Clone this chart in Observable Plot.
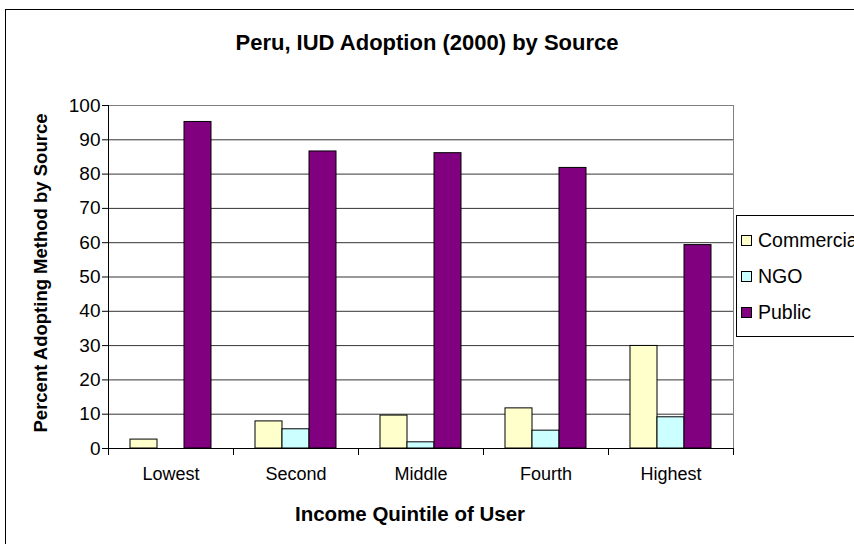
<!DOCTYPE html>
<html>
<head>
<meta charset="utf-8">
<script src="https://cdn.jsdelivr.net/npm/d3@7"></script>
<script src="https://cdn.jsdelivr.net/npm/@observablehq/plot@0.6"></script>
<style>
  html, body { margin: 0; padding: 0; background: #fff; overflow: hidden; }
  #chart { position: relative; width: 854px; height: 544px; overflow: hidden;
           font-family: "Liberation Sans", Arial, sans-serif; color: #000; background: #fff; }
  #border { position: absolute; left: 5px; top: 9px; width: 900px; height: 600px;
            border: 1px solid #000; box-sizing: border-box; }
  #plot { position: absolute; left: 0; top: 0; }
  #title { position: absolute; left: 0; width: 854px; top: 30px; text-align: center;
           font-weight: bold; font-size: 22px; line-height: 26px; white-space: nowrap; }
  #xtitle { position: absolute; left: 110px; width: 600px; top: 502px; text-align: center;
            font-weight: bold; font-size: 20.5px; line-height: 24px; white-space: nowrap; }
  #ytitle { position: absolute; left: -159px; top: 262px; width: 400px; text-align: center;
            font-weight: bold; font-size: 18.5px; line-height: 22px; white-space: nowrap;
            transform: rotate(-90deg); transform-origin: 200px 11px; }
  #legend { position: absolute; left: 736px; top: 215px; width: 200px; height: 122px;
            border: 1px solid #000; box-sizing: border-box; background: #fff; }
  .item { position: absolute; left: 4px; height: 22px; display: flex; align-items: center;
          font-size: 19.5px; white-space: nowrap; }
  .sw { width: 9px; height: 9px; border: 1px solid #000; margin-right: 6px; flex: none; }
</style>
</head>
<body>
<div id="chart">
  <div id="border"></div>
  <div id="plot"></div>
  <div id="title"></div>
  <div id="xtitle"></div>
  <div id="ytitle"></div>
  <div id="legend"></div>
</div>
<script>
// Categories and series (percent of IUD adopters by source, Peru 2000)
const quintiles = ["Lowest", "Second", "Middle", "Fourth", "Highest"];
const sources = ["Commercial", "NGO", "Public"];
const commercial = [2.6, 7.9, 9.6, 11.7, 29.9];
const ngo = [0, 5.6, 1.8, 5.2, 9.1];
const publicSector = [95.2, 86.6, 86.1, 81.8, 59.3];
const sourceColors = ["#FFFFCC", "#CCFFFF", "#800080"];
const yTicks = [0, 10, 20, 30, 40, 50, 60, 70, 80, 90, 100];

const titleText = "Peru, IUD Adoption (2000) by Source";
const xTitle = "Income Quintile of User";
const yTitle = "Percent Adopting Method by Source";

const series = [commercial, ngo, publicSector];
const rows = quintiles.flatMap((q, i) =>
  sources.map((s, j) => ({quintile: q, source: s, value: series[j][i]}))
);

const width = 854, height = 544;
const marginTop = 105, marginBottom = 96, marginLeft = 108, marginRight = 121;
const innerHeight = height - marginTop - marginBottom;

const chart = Plot.plot({
  width, height, marginTop, marginBottom, marginLeft, marginRight,
  style: {fontFamily: "'Liberation Sans', Arial, sans-serif", fontSize: "18px",
          background: "transparent", color: "#000", overflow: "visible"},
  fx: {domain: quintiles, padding: 0, label: null},
  x: {domain: sources, paddingInner: 0, paddingOuter: 0.74, axis: null},
  y: {domain: [0, 100], label: null, axis: null},
  color: {domain: sources, range: sourceColors},
  marks: [
    // horizontal gridlines and plot-area top and right edges
    Plot.ruleY(yTicks.filter(t => t > 0 && t < 100), {stroke: "#000", strokeOpacity: 0.8}),
    Plot.ruleY([100], {stroke: "#808080"}),
    Plot.frame({anchor: "right", stroke: "#808080", facetAnchor: "right"}),
    // grouped bars
    Plot.barY(rows, {fx: "quintile", x: "source", y: "value", fill: "source",
                     stroke: "#000", strokeWidth: 1}),
    // axis lines
    Plot.ruleY([0], {stroke: "#000"}),
    Plot.frame({anchor: "left", stroke: "#000", facetAnchor: "left"}),
    // category boundary ticks below the x axis
    Plot.frame({anchor: "left", stroke: "#000", insetTop: innerHeight, insetBottom: -6}),
    Plot.frame({anchor: "right", stroke: "#000", insetTop: innerHeight, insetBottom: -6, facetAnchor: "right"}),
    Plot.axisY({ticks: yTicks, tickSize: 6, tickPadding: 2, tickFormat: d => String(d),
                stroke: "#000", label: null, fontSize: 19}),
    Plot.axisFx({anchor: "bottom", tickSize: 0, tickPadding: 19, label: null})
  ]
});
document.getElementById("plot").appendChild(chart);

document.getElementById("title").textContent = titleText;
document.getElementById("xtitle").textContent = xTitle;
document.getElementById("ytitle").textContent = yTitle;

const legend = document.getElementById("legend");
sources.forEach((s, i) => {
  const item = document.createElement("div");
  item.className = "item";
  item.style.top = (13 + i * 36) + "px";
  const sw = document.createElement("div");
  sw.className = "sw";
  sw.style.background = sourceColors[i];
  const label = document.createElement("span");
  label.textContent = s;
  item.appendChild(sw);
  item.appendChild(label);
  legend.appendChild(item);
});
</script>
</body>
</html>
